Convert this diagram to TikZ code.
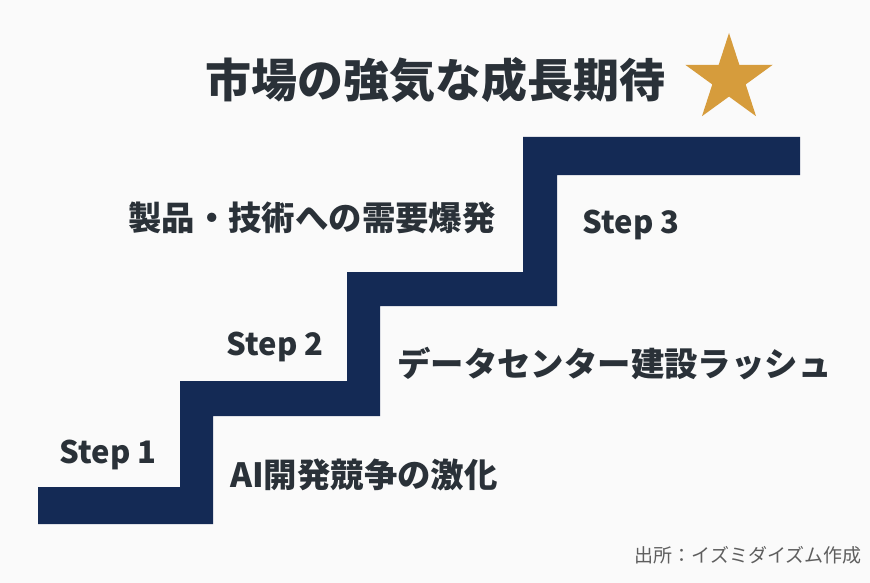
\documentclass[tikz,border=0pt]{standalone}
\usepackage{fontspec}
\setmainfont{Noto Sans CJK JP}
\usetikzlibrary{shapes.geometric}
\definecolor{stairblue}{HTML}{142A55}
\definecolor{inkgray}{HTML}{2A3138}
\definecolor{stargold}{HTML}{D69C3C}
\definecolor{notegray}{HTML}{5E5E5E}
\begin{document}
\begin{tikzpicture}[x=1pt, y=-1pt,
    every node/.style={inner sep=0pt, text=inkgray, font=\bfseries\fontsize{33.4}{36}\selectfont},
    steplabel/.style={anchor=base, font=\bfseries\fontsize{31}{35}\selectfont},
    stagelabel/.style={anchor=west}]
        \useasboundingbox[fill=white!98!black] (0,0) rectangle (870,583);

        % staircase
        \fill[stairblue] (38,487) -| (180,381) -| (347,272) -| (523,137) -| (800,175)
            -| (557,306) -| (380,416) -| (213,524) -- (38,524) -- cycle;

        \node[font=\bfseries\fontsize{46}{50}\selectfont] (title) at (435,80) {市場の強気な成長期待};
        \node[star, star points=5, star point ratio=2.618, minimum size=92pt, fill=stargold] (star) at (729,79) {};

        \node[steplabel] (s1) at (108,463) {Step 1};
        \node[steplabel] (s2) at (275,355) {Step 2};
        \node[steplabel] (s3) at (631,233) {Step 3};

        \node[stagelabel] (g1) at (230,475) {AI開発競争の激化};
        \node[stagelabel] (g2) at (397,364) {データセンター建設ラッシュ};
        \node[stagelabel] (g3) at (128,218) {製品・技術への需要爆発};

        \node[anchor=east, text=notegray, font=\fontsize{19}{22}\selectfont] (src) at (862,555) {出所：イズミダイズム作成};
    \end{tikzpicture}
\end{document}
